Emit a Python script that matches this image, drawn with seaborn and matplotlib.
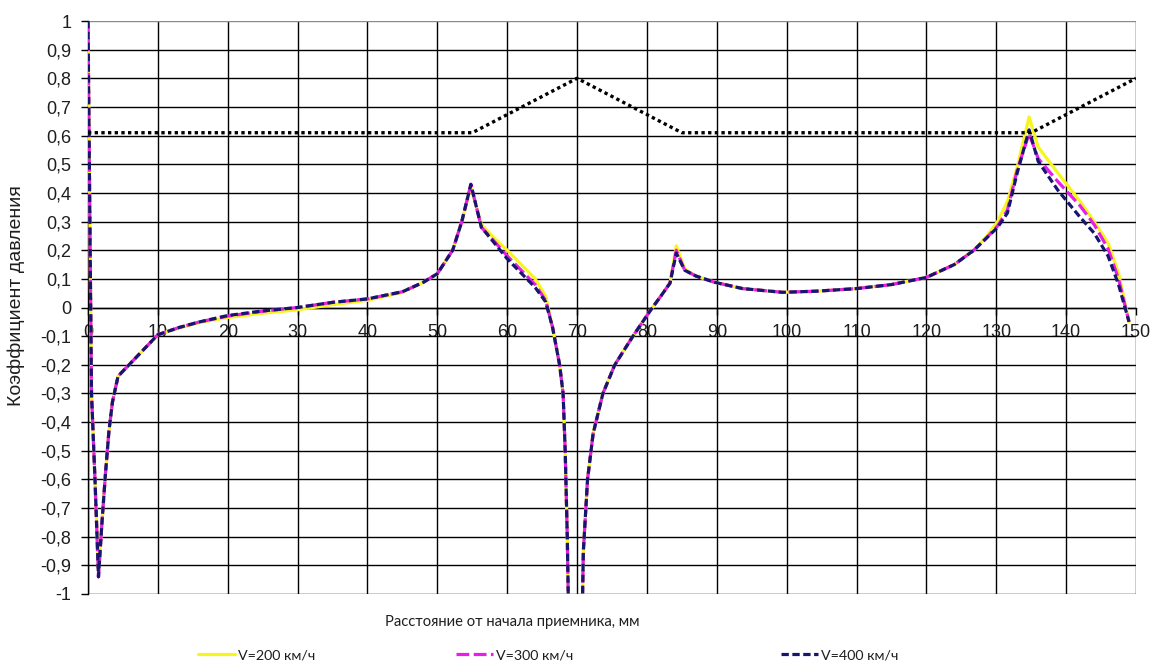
import numpy as np
import pandas as pd
import matplotlib
matplotlib.use("Agg")
import matplotlib.pyplot as plt
from matplotlib.ticker import FuncFormatter, FixedLocator
from matplotlib.lines import Line2D
import seaborn as sns

# Distance along the receiver, mm
distance = [0, 0.5, 1.0, 1.5, 2.0, 2.5, 3.0, 3.5, 4.3, 10, 13, 16, 20, 25, 30, 35,
            40, 45, 48, 50, 52.2, 53.5, 54.8, 56.3, 58, 60, 62, 64, 65.5, 66.5,
            67.5, 68.0, 68.3, 68.6, 69.0, 70.5, 70.9, 71.5, 72.3, 73.7, 75.4, 78,
            80.5, 82, 83.3, 84.2, 85.4, 87, 89.7, 93.7, 99.4, 104.3, 110, 115,
            120, 124, 126.8, 128.5, 130.2, 131.6, 133, 134.7, 136, 138.8, 142,
            144, 146, 147.5, 149]

# Pressure coefficient for V = 200 km/h
cp_200 = [1.0, -0.3, -0.6, -0.92, -0.75, -0.58, -0.43, -0.33, -0.24, -0.095, -0.072, -0.052, -0.035, -0.02, -0.008, 0.01,
          0.025, 0.053, 0.088, 0.118, 0.2, 0.3, 0.42, 0.29, 0.245, 0.2, 0.15, 0.1, 0.04, -0.07,
          -0.2, -0.3, -0.5, -0.8, -1.4, -1.4, -0.85, -0.6, -0.44, -0.3, -0.2, -0.1,
          -0.01, 0.04, 0.085, 0.215, 0.135, 0.11, 0.088, 0.066, 0.053, 0.057, 0.066, 0.08,
          0.105, 0.15, 0.2, 0.245, 0.3, 0.37, 0.49, 0.665, 0.56, 0.47, 0.37,
          0.3, 0.225, 0.12, -0.05]

# Pressure coefficient for V = 300 km/h
cp_300 = [1.0, -0.3, -0.6, -0.94, -0.75, -0.58, -0.43, -0.33, -0.24, -0.095, -0.07, -0.05, -0.03, -0.013, 0.0, 0.018,
          0.03, 0.055, 0.088, 0.118, 0.2, 0.3, 0.43, 0.28, 0.235, 0.18, 0.13, 0.08, 0.025, -0.07,
          -0.2, -0.3, -0.5, -0.8, -1.4, -1.4, -0.85, -0.6, -0.44, -0.3, -0.2, -0.1,
          -0.01, 0.04, 0.085, 0.2, 0.13, 0.11, 0.088, 0.066, 0.053, 0.057, 0.066, 0.08,
          0.105, 0.15, 0.2, 0.24, 0.285, 0.34, 0.48, 0.607, 0.52, 0.44, 0.355,
          0.29, 0.205, 0.1, -0.05]

# Pressure coefficient for V = 400 km/h
cp_400 = [1.0, -0.3, -0.6, -0.94, -0.75, -0.58, -0.43, -0.33, -0.24, -0.095, -0.07, -0.05, -0.028, -0.012, 0.0, 0.018,
          0.03, 0.055, 0.088, 0.118, 0.2, 0.3, 0.43, 0.28, 0.23, 0.17, 0.12, 0.07, 0.02, -0.07,
          -0.2, -0.3, -0.5, -0.8, -1.4, -1.4, -0.85, -0.6, -0.44, -0.3, -0.2, -0.1,
          -0.01, 0.04, 0.085, 0.19, 0.13, 0.11, 0.088, 0.066, 0.053, 0.057, 0.066, 0.08,
          0.105, 0.15, 0.2, 0.24, 0.28, 0.33, 0.47, 0.62, 0.51, 0.41, 0.315,
          0.26, 0.18, 0.08, -0.05]

# Receiver contour (dotted)
contour_x = [0, 55, 70, 85, 135, 150]
contour_y = [0.61, 0.61, 0.8, 0.61, 0.61, 0.8]

series_labels = ["V=200 км/ч", "V=300 км/ч", "V=400 км/ч"]
x_ticks = list(range(0, 151, 10))
y_ticks = [round(v, 1) for v in np.arange(-1.0, 1.0001, 0.1)]

sns.set_style("white")
plt.rcParams["font.family"] = ["Liberation Sans", "DejaVu Sans"]
plt.rcParams["axes.unicode_minus"] = False
text_color = "#1e1e1e"

W, H = 1153, 668
fig = plt.figure(figsize=(W / 100, H / 100), dpi=100)
ax = fig.add_axes([88 / W, 1 - 594 / H, (1136 - 88) / W, (594 - 21) / H])

df = pd.DataFrame({"x": distance, "v200": cp_200, "v300": cp_300, "v400": cp_400})
cdf = pd.DataFrame({"x": contour_x, "y": contour_y})

colors = ["#f7f51c", "#e81ee8", "#16166e"]
styles = ["-", (0, (4.0, 1.4)), (0, (2.3, 1.1))]
lw = 2.3

for col, c, ls in zip(["v200", "v300", "v400"], colors, styles):
    sns.lineplot(data=df, x="x", y=col, ax=ax, color=c, linewidth=lw,
                 linestyle=ls, sort=False, estimator=None, zorder=3)

sns.lineplot(data=cdf, x="x", y="y", ax=ax, color="black", linewidth=2.4,
             linestyle=(0, (1.0, 1.0)), sort=False, estimator=None, zorder=4)

ax.set_xlim(0, 150)
ax.set_ylim(-1, 1)
ax.xaxis.set_major_locator(FixedLocator(x_ticks))
ax.yaxis.set_major_locator(FixedLocator(y_ticks))


def comma_fmt(v, pos):
    v = round(v, 1)
    if abs(v) < 1e-9:
        return "0"
    s = f"{v:g}"
    return s.replace(".", ",")


ax.yaxis.set_major_formatter(FuncFormatter(comma_fmt))
ax.xaxis.set_major_formatter(FuncFormatter(lambda v, p: f"{int(round(v))}"))

ax.grid(True, color="black", linewidth=1.0)
for gl in ax.yaxis.get_gridlines():
    gl.set_zorder(1)
ygl = ax.yaxis.get_gridlines()
ygl[-1].set_color("#8a8a8a")

for s in ["top", "right"]:
    ax.spines[s].set_visible(False)
ax.spines["bottom"].set_position(("data", 0))
ax.spines["bottom"].set_color("black")
ax.spines["left"].set_color("black")
ax.spines["bottom"].set_linewidth(1.0)
ax.spines["left"].set_linewidth(1.0)

ax.tick_params(axis="y", direction="out", length=5, width=1, pad=7,
               labelsize=13, colors="black", labelcolor=text_color, left=True)
ax.tick_params(axis="x", direction="out", length=5, width=1, pad=7,
               labelsize=13, colors="black", labelcolor=text_color, bottom=True)

ax.set_ylabel("Коэффициент давления", fontsize=14, color=text_color)
ax.yaxis.set_label_coords(-0.06, 0.52)
ax.set_xlabel("")

label_font = ["Lato", "Open Sans", "DejaVu Sans"]
fig.text(512 / W, 1 - 622 / H, "Расстояние от начала приемника, мм",
         ha="center", va="center", fontsize=10.6, color=text_color,
         family=label_font)

# One legend entry per series, spread along the bottom edge
legend_left_px = [198, 456, 781]
for c, ls, lab, xpx in zip(colors, styles, series_labels, legend_left_px):
    h = Line2D([0], [0], color=c, linewidth=lw, linestyle=ls)
    fig.legend([h], [lab], loc="center left",
               bbox_to_anchor=(xpx / W, 13 / H), frameon=False,
               borderpad=0, borderaxespad=0,
               handlelength=2.6, handletextpad=0.2,
               prop={"family": label_font, "size": 10.3},
               labelcolor=text_color)

fig.savefig("out.png", dpi=100, facecolor="white")
